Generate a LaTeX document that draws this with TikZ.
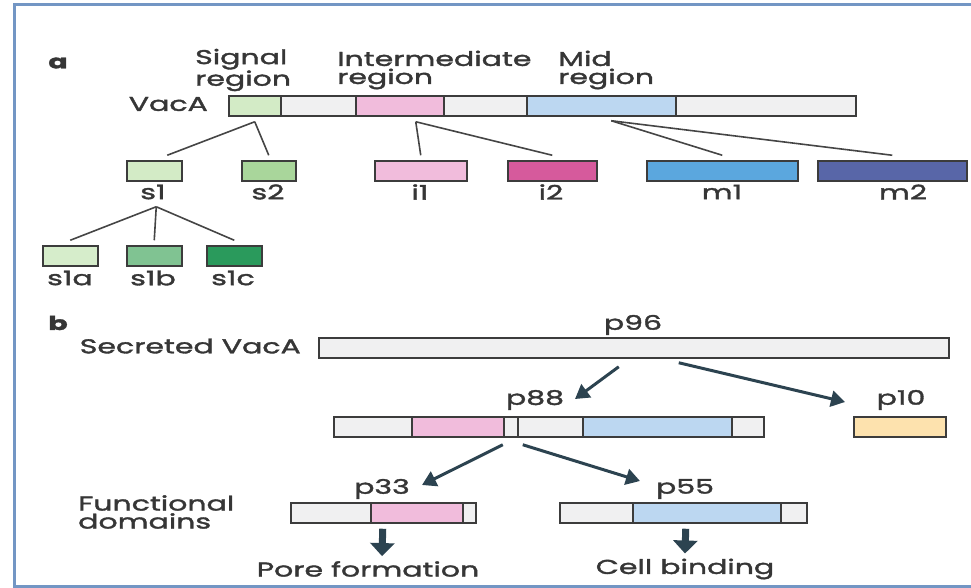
\documentclass[tikz,border=0pt]{standalone}
\usepackage{fontspec}
\setmainfont{Poppins}[FakeStretch=1.5,FakeBold=1.8]
\usetikzlibrary{arrows.meta}

\definecolor{ink}{HTML}{363636}
\definecolor{bar}{HTML}{3C3C3C}
\definecolor{linkc}{HTML}{454545}
\definecolor{arr}{HTML}{2C4350}
\definecolor{frame}{HTML}{7396C4}
\definecolor{blank}{HTML}{F0F0F1}
\definecolor{sig}{HTML}{D3EBC6}
\definecolor{stwo}{HTML}{A9D69B}
\definecolor{sonea}{HTML}{D6EDCB}
\definecolor{soneb}{HTML}{80C392}
\definecolor{sonec}{HTML}{2A9A5C}
\definecolor{pinklt}{HTML}{F1BCDC}
\definecolor{itwo}{HTML}{D65A9C}
\definecolor{bluelt}{HTML}{BCD7F1}
\definecolor{mone}{HTML}{5BA7DE}
\definecolor{mtwo}{HTML}{5866A8}
\definecolor{orng}{HTML}{FDE2AE}

\begin{document}
\begin{tikzpicture}[x=1pt,y=-1pt,
    seg/.style={draw=bar, line width=1.5pt, minimum height=20pt, inner sep=0pt, anchor=west},
    txt/.style={text=ink, font=\fontsize{20}{18}\selectfont, inner sep=0pt},
    link/.style={draw=linkc, line width=1.6pt},
    cut/.style={draw=arr, line width=3pt, -{Triangle[length=14pt,width=16pt]}},
    fate/.style={draw=arr, line width=7pt, -{Triangle[length=13pt,width=24pt]}}]
    \useasboundingbox (0,0) rectangle (971,588);
    \draw[frame, line width=3pt] (971,5) -- (14,5) -- (14,586) -- (971,586);

    \node[txt, font=\fontsize{19}{16}\bfseries] (la) at (58,63) {a};
    \node[txt, anchor=west, align=left] (tsig) at (195,70) {Signal\\region};
    \node[txt, anchor=west, align=left] (tint) at (337,70) {Intermediate\\region};
    \node[txt, anchor=west, align=left] (tmid) at (558,70) {Mid\\region};
    \node[txt, anchor=east] (tvac) at (208,104) {VacA};

    \node[seg, fill=sig, minimum width=52pt] (vsig) at (228,106) {};
    \node[seg, fill=blank, minimum width=75pt] (va) at (280,106) {};
    \node[seg, fill=pinklt, minimum width=88pt] (vint) at (355,106) {};
    \node[seg, fill=blank, minimum width=83pt] (vb) at (443,106) {};
    \node[seg, fill=bluelt, minimum width=149pt] (vmid) at (526,106) {};
    \node[seg, fill=blank, minimum width=180pt] (vc) at (675,106) {};

    \node[seg, fill=sig, minimum width=55pt] (s1) at (126,171) {};
    \node[seg, fill=stwo, minimum width=54pt] (s2) at (241,171) {};
    \node[seg, fill=pinklt, minimum width=92pt] (i1) at (374,171) {};
    \node[seg, fill=itwo, minimum width=89pt] (i2) at (507,171) {};
    \node[seg, fill=mone, minimum width=151pt] (m1) at (646,171) {};
    \node[seg, fill=mtwo, minimum width=149pt] (m2) at (817,171) {};
    \node[txt] (s1l) at (153,192) {s1};
    \node[txt] (s2l) at (268,192) {s2};
    \node[txt] (i1l) at (420,192) {i1};
    \node[txt] (i2l) at (551,192) {i2};
    \node[txt] (m1l) at (722,192) {m1};
    \node[txt] (m2l) at (903,192) {m2};

    \draw[link] ([yshift=-5pt]vsig.south) -- ([xshift=13pt,yshift=5pt]s1.north);
    \draw[link] ([yshift=-5pt]vsig.south) -- ([yshift=5pt]s2.north);
    \draw[link] ([xshift=16pt,yshift=-5pt]vint.south) -- ([yshift=5pt]i1.north);
    \draw[link] ([xshift=16pt,yshift=-5pt]vint.south) -- ([yshift=5pt]i2.north);
    \draw[link] ([xshift=10pt,yshift=-4pt]vmid.south) -- ([yshift=5pt]m1.north);
    \draw[link] ([xshift=10pt,yshift=-4pt]vmid.south) -- ([yshift=5pt]m2.north);

    \node[seg, fill=sonea, minimum width=55pt] (s1a) at (42,256) {};
    \node[seg, fill=soneb, minimum width=55pt] (s1b) at (126,256) {};
    \node[seg, fill=sonec, minimum width=55pt] (s1c) at (206,256) {};
    \node[txt] (s1al) at (70,278) {s1a};
    \node[txt] (s1bl) at (153,278) {s1b};
    \node[txt] (s1cl) at (233,278) {s1c};

    \draw[link] ([xshift=2pt,yshift=-25pt]s1.south) -- ([yshift=5pt]s1a.north);
    \draw[link] ([xshift=2pt,yshift=-25pt]s1.south) -- ([yshift=5pt]s1b.north);
    \draw[link] ([xshift=2pt,yshift=-25pt]s1.south) -- ([yshift=5pt]s1c.north);

    \node[txt, font=\fontsize{19}{16}\bfseries] (lb) at (58,323) {b};
    \node[txt, anchor=east] (tsec) at (301,346) {Secreted VacA};
    \node[txt] (p96l) at (633,325) {p96};
    \node[seg, fill=blank, minimum width=630pt] (p96) at (318,348) {};

    \node[txt] (p88l) at (535,400) {p88};
    \node[seg, fill=blank, minimum width=78pt] (p88a) at (333,427) {};
    \node[seg, fill=pinklt, minimum width=92pt] (p88b) at (411,427) {};
    \node[seg, fill=blank, minimum width=14pt] (p88c) at (503,427) {};
    \node[seg, fill=blank, minimum width=65pt] (p88d) at (517,427) {};
    \node[seg, fill=bluelt, minimum width=149pt] (p88e) at (582,427) {};
    \node[seg, fill=blank, minimum width=32pt] (p88f) at (731,427) {};

    \node[txt] (p10l) at (901,400) {p10};
    \node[seg, fill=orng, minimum width=92pt] (p10) at (853,427) {};

    \draw[cut] ([xshift=-15pt,yshift=-8pt]p96.south) -- ([xshift=40pt,yshift=1pt]p88l.center);
    \draw[cut] ([xshift=45pt,yshift=-4pt]p96.south) -- ([xshift=-56pt,yshift=-2pt]p10l.center);

    \node[txt, anchor=west, align=left] (tfun) at (78,512) {Functional\\domains};
    \node[txt] (p33l) at (382,489) {p33};
    \node[seg, fill=blank, minimum width=80pt] (p33a) at (290,513) {};
    \node[seg, fill=pinklt, minimum width=92pt] (p33b) at (370,513) {};
    \node[seg, fill=blank, minimum width=13pt] (p33c) at (462,513) {};
    \node[txt] (p55l) at (685,489) {p55};
    \node[seg, fill=blank, minimum width=73pt] (p55a) at (559,513) {};
    \node[seg, fill=bluelt, minimum width=148pt] (p55b) at (632,513) {};
    \node[seg, fill=blank, minimum width=26pt] (p55c) at (780,513) {};

    \draw[cut] ([xshift=-8pt,yshift=-7pt]p88c.south) -- ([xshift=40pt,yshift=4pt]p33l.center);
    \draw[cut] ([xshift=12pt,yshift=-7pt]p88c.south) -- ([xshift=-45pt,yshift=8pt]p55l.center);

    \node[txt] (pore) at (368,569) {Pore formation};
    \node[txt] (cell) at (685,569) {Cell binding};
    \draw[fate] ([xshift=-34pt,yshift=-5pt]p33b.south) -- ([xshift=14pt,yshift=5pt]pore.north);
    \draw[fate] ([xshift=-21pt,yshift=-5pt]p55b.south) -- ([yshift=5pt]cell.north);
  \end{tikzpicture}
\end{document}
